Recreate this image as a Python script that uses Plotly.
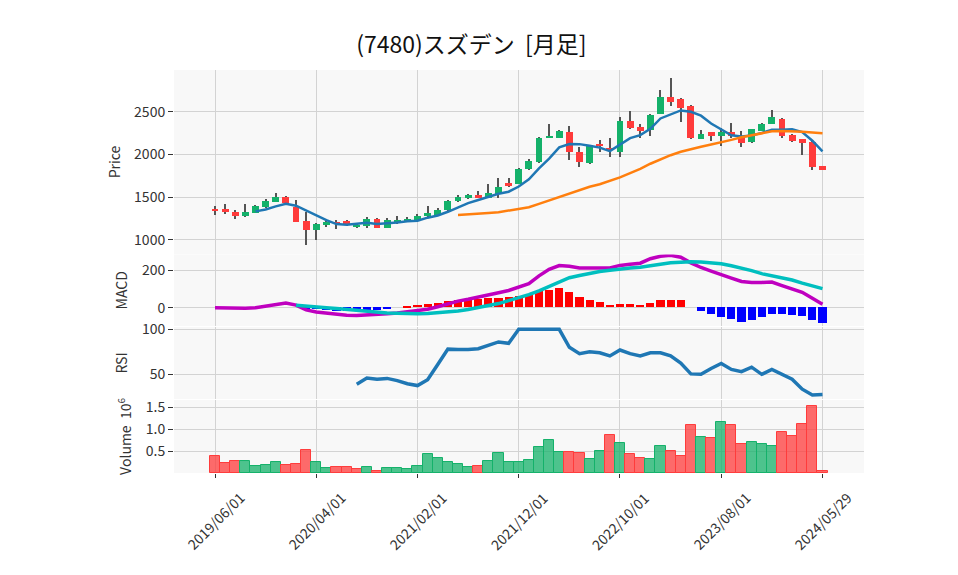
import plotly.graph_objects as go
from plotly.subplots import make_subplots

# ---------------- data ----------------
dates = [
    "2019/06/01", "2019/07/01", "2019/08/01", "2019/09/01", "2019/10/01", "2019/11/01",
    "2019/12/01", "2020/01/01", "2020/02/01", "2020/03/01", "2020/04/01", "2020/05/01",
    "2020/06/01", "2020/07/01", "2020/08/01", "2020/09/01", "2020/10/01", "2020/11/01",
    "2020/12/01", "2021/01/01", "2021/02/01", "2021/03/01", "2021/04/01", "2021/05/01",
    "2021/06/01", "2021/07/01", "2021/08/01", "2021/09/01", "2021/10/01", "2021/11/01",
    "2021/12/01", "2022/01/01", "2022/02/01", "2022/03/01", "2022/04/01", "2022/05/01",
    "2022/06/01", "2022/07/01", "2022/08/01", "2022/09/01", "2022/10/01", "2022/11/01",
    "2022/12/01", "2023/01/01", "2023/02/01", "2023/03/01", "2023/04/01", "2023/05/01",
    "2023/06/01", "2023/07/01", "2023/08/01", "2023/09/01", "2023/10/01", "2023/11/01",
    "2023/12/01", "2024/01/01", "2024/02/01", "2024/03/01", "2024/04/01", "2024/05/01",
    "2024/05/29",
]
tick_labels = ["2019/06/01", "2020/04/01", "2021/02/01", "2021/12/01",
               "2022/10/01", "2023/08/01", "2024/05/29"]

opens = [1356, 1360, 1321, 1274, 1317, 1387, 1446, 1504, 1383, 1219,
         1118, 1176, 1200, 1219, 1149, 1157, 1243, 1141, 1196, 1211,
         1227, 1274, 1289, 1344, 1457, 1493, 1520, 1493, 1532, 1665,
         1657, 1825, 1911, 2195, 2196, 2258, 2024, 1899, 2112, 2070,
         2032, 2391, 2321, 2282, 2477, 2672, 2649, 2567, 2176, 2262,
         2211, 2262, 2208, 2149, 2274, 2352, 2411, 2227, 2180, 2145,
         1864]
highs = [1391, 1415, 1352, 1415, 1407, 1473, 1551, 1512, 1461, 1328,
         1200, 1239, 1227, 1231, 1188, 1266, 1250, 1250, 1278, 1270,
         1297, 1395, 1368, 1469, 1520, 1532, 1571, 1649, 1719, 1727,
         1844, 1942, 2204, 2352, 2290, 2336, 2086, 2106, 2172, 2190,
         2440, 2508, 2352, 2477, 2750, 2899, 2657, 2575, 2282, 2262,
         2313, 2364, 2274, 2300, 2372, 2516, 2422, 2235, 2180, 2157,
         1864]
lows = [1289, 1297, 1239, 1266, 1309, 1375, 1446, 1415, 1205, 934,
        993, 1149, 1122, 1160, 1141, 1134, 1134, 1141, 1188, 1204,
        1219, 1266, 1278, 1336, 1446, 1481, 1485, 1485, 1493, 1615,
        1649, 1817, 1903, 2188, 2188, 1930, 1852, 1891, 2032, 1965,
        1969, 2300, 2196, 2215, 2470, 2567, 2379, 2180, 2176, 2157,
        2099, 2196, 2086, 2137, 2274, 2352, 2196, 2149, 1996, 1821,
        1821]
closes = [1340, 1328, 1274, 1321, 1395, 1454, 1504, 1426, 1211, 1110,
          1188, 1211, 1195, 1168, 1165, 1243, 1141, 1227, 1231, 1243,
          1274, 1313, 1352, 1454, 1500, 1520, 1497, 1547, 1620, 1628,
          1825, 1918, 2192, 2200, 2274, 2024, 1911, 2095, 2100, 2062,
          2395, 2305, 2278, 2461, 2672, 2618, 2547, 2196, 2239, 2211,
          2258, 2211, 2137, 2293, 2360, 2438, 2215, 2157, 2137, 1852,
          1821]

ma_short = [None, None, None, None, 1332, 1354, 1390, 1420, 1398, 1341,
            1288, 1229, 1183, 1174, 1186, 1197, 1183, 1189, 1202, 1217,
            1223, 1258, 1283, 1327, 1379, 1428, 1465, 1504, 1538, 1562,
            1623, 1708, 1837, 1951, 2082, 2122, 2120, 2101, 2079, 2038,
            2111, 2190, 2226, 2300, 2421, 2467, 2515, 2499, 2454, 2362,
            2290, 2223, 2211, 2222, 2252, 2288, 2289, 2293, 2261, 2160,
            2036]
ma_long = [None] * 24 + [
            1289, 1295, 1302, 1312, 1322, 1340,
            1356, 1380, 1420, 1460, 1500, 1540, 1580, 1620, 1650, 1690,
            1730, 1780, 1830, 1890, 1940, 1990, 2030, 2062, 2090, 2115,
            2140, 2170, 2200, 2225, 2250, 2270, 2275, 2272, 2265, 2255,
            2247]

macd = [0, -1, -3, -3, 0, 8, 18, 25, 14, -12,
        -23, -30, -35, -40, -42, -40, -38, -33, -28, -22,
        -18, -8, 5, 20, 35, 45, 58, 70, 80, 92,
        112, 128, 170, 205, 225, 222, 212, 214, 212, 212,
        226, 232, 238, 262, 275, 280, 270, 240, 215, 196,
        175, 158, 140, 135, 135, 137, 118, 100, 82, 50,
        18]
signal = [None] * 8 + [
          13, 10,
          6, 0, -5, -10, -16, -20, -25, -28, -30, -32,
          -32, -31, -28, -25, -18, -10, 0, 10, 22, 38,
          52, 70, 90, 115, 138, 160, 172, 184, 194, 200,
          208, 212, 216, 222, 232, 240, 245, 246, 244, 240,
          235, 224, 212, 198, 182, 172, 161, 148, 131, 118,
          102]
macd_hist = [None] * 8 + [
             0, -8,
             -10, -15, -18, -20, -20, -18, -15, -10, 0, 5,
             11, 18, 23, 32, 41, 45, 45, 50, 50, 54,
             59, 71, 86, 94, 103, 82, 53, 37, 27, 11,
             16, 16, 11, 21, 41, 41, 37, 0, -21, -39,
             -52, -62, -78, -68, -52, -36, -36, -43, -48, -68,
             -84]

rsi = [None] * 14 + [
       39, 46, 44.5, 45.5, 43, 39.5,
       37.5, 44, 61, 78, 77.5, 77.5, 78.5, 82, 86, 84.5,
       100, 100, 100, 100, 100, 80, 73, 75, 74, 70.5,
       77, 73, 70.5, 74, 74, 70.5, 62.5, 50.5, 50, 56.5,
       62, 55.5, 53, 58, 50, 55.5, 50.5, 44.5, 33.5, 27,
       27.5]

volume_millions = [0.386, 0.227, 0.273, 0.273, 0.159, 0.182, 0.258, 0.182, 0.205, 0.523,
                   0.250, 0.114, 0.136, 0.136, 0.091, 0.136, 0.045, 0.114, 0.114, 0.091,
                   0.159, 0.432, 0.341, 0.250, 0.205, 0.136, 0.159, 0.273, 0.455, 0.250,
                   0.250, 0.295, 0.591, 0.765, 0.477, 0.477, 0.455, 0.318, 0.500, 0.879,
                   0.682, 0.432, 0.341, 0.318, 0.614, 0.500, 0.386, 1.106, 0.818, 0.811,
                   1.159, 1.091, 0.659, 0.705, 0.659, 0.614, 0.932, 0.841, 1.114, 1.523,
                   0.045]

# ---------------- styling ----------------
UP = "rgb(20,177,106)"
DOWN = "rgb(255,59,59)"
UP_VOL = "rgba(20,177,106,0.75)"
DOWN_VOL = "rgba(255,59,59,0.75)"
WICK = "#555555"
BG = "#f8f8f8"
GRID = "#d3d3d3"
FONT = "Noto Sans CJK JP"
TXT = "#333333"

x = list(range(len(dates)))
tickvals = [dates.index(t) for t in tick_labels]

body_base = [min(o, c) for o, c in zip(opens, closes)]
body_h = [max(abs(c - o), 12) for o, c in zip(opens, closes)]
body_col = [UP if c >= o else DOWN for o, c in zip(opens, closes)]
wick_h = [h - l for h, l in zip(highs, lows)]

vol_up = [closes[0] >= opens[0]] + [closes[i] > closes[i - 1] for i in range(1, len(closes))]
vol_fill = [UP_VOL if u else DOWN_VOL for u in vol_up]
vol_line = [UP if u else DOWN for u in vol_up]

hist_col = ["red" if (v is not None and v >= 0) else "blue" for v in macd_hist]

fig = make_subplots(rows=4, cols=1, shared_xaxes=True, vertical_spacing=0.002)

# price: wicks then bodies
fig.add_trace(go.Bar(x=x, y=wick_h, base=lows, width=0.12,
                     marker=dict(color=WICK, line=dict(width=0)),
                     hoverinfo="skip", showlegend=False), row=1, col=1)
fig.add_trace(go.Bar(x=x, y=body_h, base=body_base, width=0.68,
                     marker=dict(color=body_col, line=dict(width=0)),
                     showlegend=False), row=1, col=1)
fig.add_trace(go.Scatter(x=x, y=ma_short, mode="lines",
                         line=dict(color="#1f77b4", width=2.5),
                         showlegend=False), row=1, col=1)
fig.add_trace(go.Scatter(x=x, y=ma_long, mode="lines",
                         line=dict(color="#ff7f0e", width=2.5),
                         showlegend=False), row=1, col=1)

# MACD
fig.add_trace(go.Bar(x=x, y=macd_hist, width=0.8,
                     marker=dict(color=hist_col, line=dict(width=0)),
                     showlegend=False), row=2, col=1)
fig.add_trace(go.Scatter(x=x, y=macd, mode="lines",
                         line=dict(color="rgb(191,0,191)", width=3.5),
                         showlegend=False), row=2, col=1)
fig.add_trace(go.Scatter(x=x, y=signal, mode="lines",
                         line=dict(color="rgb(0,191,191)", width=3.5),
                         showlegend=False), row=2, col=1)

# RSI
fig.add_trace(go.Scatter(x=x, y=rsi, mode="lines",
                         line=dict(color="#1f77b4", width=3.5),
                         showlegend=False), row=3, col=1)

# Volume
fig.add_trace(go.Bar(x=x, y=volume_millions, width=1.0,
                     marker=dict(color=vol_fill, line=dict(color=vol_line, width=1)),
                     showlegend=False), row=4, col=1)

xr = [-4.05, 64.1]
for r in range(1, 5):
    fig.update_xaxes(row=r, col=1, range=xr, tickvals=tickvals, showgrid=True,
                     gridcolor=GRID, gridwidth=1, zeroline=False, showline=False,
                     showticklabels=False, ticks="")
fig.update_xaxes(row=4, col=1, ticks="outside", ticklen=4, tickcolor=TXT)

# date labels rotated about their centre (as in the reference)
for tv, lab in zip(tickvals, tick_labels):
    fig.add_annotation(x=tv, xref="x4", y=-0.03, yref="paper", text=lab,
                       textangle=-45, showarrow=False, xanchor="center", yanchor="top",
                       font=dict(family=FONT, size=14, color=TXT))

common_y = dict(showgrid=True, gridcolor=GRID, gridwidth=1, zeroline=False, showline=False,
                ticks="outside", ticklen=5, tickcolor=TXT,
                tickfont=dict(size=14, color=TXT))
fig.update_yaxes(row=1, col=1, domain=[0.5434, 1.0], range=[832, 2989],
                 tickvals=[1000, 1500, 2000, 2500],
                 title=dict(text="Price", standoff=10, font=dict(size=14, color=TXT)), **common_y)
fig.update_yaxes(row=2, col=1, domain=[0.3648, 0.5422], range=[-98, 284.5],
                 tickvals=[0, 200],
                 title=dict(text="MACD", standoff=10, font=dict(size=14, color=TXT)), **common_y)
fig.update_yaxes(row=3, col=1, domain=[0.1836, 0.3623], range=[22.6, 102.6],
                 tickvals=[50, 100],
                 title=dict(text="RSI", standoff=10, font=dict(size=14, color=TXT)), **common_y)
fig.update_yaxes(row=4, col=1, domain=[0.0, 0.1811], range=[0, 1.67],
                 tickvals=[0.5, 1.0, 1.5], tickformat=".1f",
                 title=dict(text="Volume&nbsp;&nbsp;10<sup>6</sup>", standoff=10,
                            font=dict(size=14, color=TXT)),
                 **common_y)

fig.update_layout(
    width=958, height=575,
    margin=dict(l=166, r=102, t=62, b=110),
    paper_bgcolor="white", plot_bgcolor=BG,
    barmode="overlay", bargap=0,
    showlegend=False,
    font=dict(family=FONT, size=14, color=TXT),
    title=dict(text="(7480)スズデン&nbsp;&nbsp;[月足]", x=0.4837, xanchor="center", y=0.935,
               yanchor="middle", font=dict(family=FONT, size=23, color="#111")),
)

fig.write_html("out.html")
